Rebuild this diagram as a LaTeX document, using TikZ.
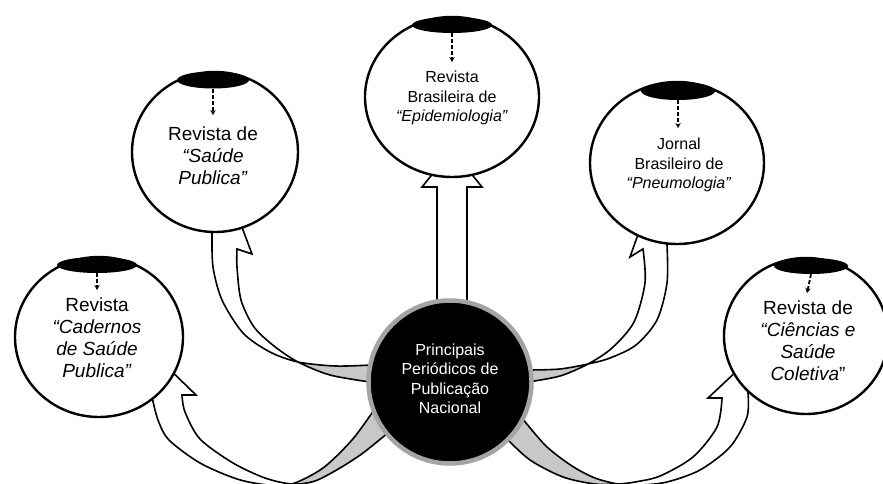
\documentclass[tikz,border=0pt]{standalone}
\usepackage{fontspec}
\setmainfont{Liberation Sans}
\usetikzlibrary{shapes.geometric,arrows.meta}
\definecolor{bandgray}{HTML}{C8C8C8}
\definecolor{ringgray}{HTML}{A4A4A4}
\newcommand\mycurvedarrow[2]{%
  \fill[bandgray] #1;
  \begin{scope}\clip #2; \fill[white] #1;\end{scope}
  \draw[arrowline] #1;
}
\begin{document}
\begin{tikzpicture}[x=1pt,y=-1pt,
  journal/.style={ellipse,draw=black,line width=2.4pt,fill=white,inner sep=0pt},
  capnode/.style={ellipse,fill=black,inner sep=0pt},
  jtext/.style={align=center,inner sep=0pt},
  dasharrow/.style={line width=1.8pt,dash pattern=on 4pt off 2pt,-{Stealth[length=5pt,width=5.5pt]}},
  arrowline/.style={line width=1.6pt,line join=miter},
  bigtext/.style={font=\fontsize{19}{22}\selectfont},
  smalltext/.style={font=\fontsize{16}{19.5}\selectfont},
]
\useasboundingbox (0,0) rectangle (883,484);
\fill[white] (0,0) rectangle (883,484);

% ---------- curved arrows ----------
% top-left
\mycurvedarrow{(212,220) -- plot[smooth] coordinates {(212,235) (213,267) (222,300) (243,333) (270,352) (298,362) (335,366) (372,365)} -- plot[smooth] coordinates {(370,382) (330,375) (298,362) (274,346) (254,327) (241,300) (237,267) (237,249)} -- (252,254) -- (240,222) -- cycle}{(0,0) rectangle (298,484)}
% top-right
\mycurvedarrow{(667,228) -- plot[smooth] coordinates {(667,245) (667,283) (657,320) (636,345) (610,358) (588,364) (560,369) (530,370)} -- plot[smooth] coordinates {(528,382) (560,376) (588,364) (612,348) (634,322) (645,283) (643,249)} -- (630,257) -- (641,226) -- cycle}{(588,0) rectangle (883,484)}
% left
\mycurvedarrow{(145,378) -- plot[smooth] coordinates {(152,397) (158,420) (169,440) (200,463) (237,479) (268,485) (292,484) (323,468) (352,440) (374,410)} -- plot[smooth] coordinates {(389,432) (363,453) (340,468) (315,481) (292,484) (265,478) (233,463) (200,439) (185,412) (182,395)} -- (196,395) -- (163,363) -- cycle}{(0,0) rectangle (292,484)}
% right
\mycurvedarrow{(752,376) -- plot[smooth] coordinates {(748,393) (747,417) (730,447) (700,470) (667,482) (640,485) (618,484) (595,478) (572,466) (546,446) (522,418)} -- plot[smooth] coordinates {(506,438) (530,460) (563,477) (595,484) (618,484) (635,482) (660,476) (693,457) (717,427) (722,398)} -- (708,398) -- (740,368) -- cycle}{(618,0) rectangle (883,484)}
% vertical
\draw[arrowline,fill=white] (437,312) -- (437,187) -- (422,187) -- (452,150) -- (482,187) -- (467,187) -- (467,312) -- cycle;

% ---------- journal circles ----------
\node[journal,minimum width=174pt,minimum height=160pt] (cT) at (452,97) {};
\node[journal,minimum width=174pt,minimum height=162pt] (cTR) at (677,163) {};
\node[journal,minimum width=166pt,minimum height=160pt] (cTL) at (215,152) {};
\node[journal,minimum width=168pt,minimum height=160pt] (cL) at (99,337) {};
\node[journal,minimum width=164pt,minimum height=156pt] (cR) at (806,336) {};

% caps
\node[capnode,minimum width=80pt,minimum height=16pt] (kT) at (452,25) {};
\node[capnode,minimum width=74pt,minimum height=18pt] (kTR) at (678,91) {};
\node[capnode,minimum width=72pt,minimum height=17pt] (kTL) at (213,80) {};
\node[capnode,minimum width=80pt,minimum height=16pt] (kL) at (97,265) {};
\node[capnode,minimum width=74pt,minimum height=16pt] (kR) at (811,266) {};

% dashed arrow ends
\coordinate (eT) at (452,62);
\coordinate (eTR) at (678,128);
\coordinate (eTL) at (213,115);
\coordinate (eL) at (97,290);
\coordinate (eR) at (807,293);
\draw[dasharrow] (kT.south) -- (eT);
\draw[dasharrow] (kTR.south) -- (eTR);
\draw[dasharrow] (kTL.south) -- (eTL);
\draw[dasharrow] (kL.south) -- (eL);
\draw[dasharrow] (kR.south) -- (eR);

% texts
\node[jtext,smalltext] (tT) at (452,98) {Revista\\Brasileira de\\\textit{“Epidemiologia”}};
\node[jtext,smalltext] (tTR) at (679,165) {Jornal\\Brasileiro de\\\textit{“Pneumologia”}};
\node[jtext,bigtext] (tTL) at (213,156) {Revista de\\\textit{“Saúde}\\\textit{Publica”}};
\node[jtext,bigtext] (tL) at (97,338) {Revista\\\textit{“Cadernos}\\\textit{de Saúde}\\\textit{Publica”}};
\node[jtext,bigtext] (tR) at (808,341) {Revista de\\\textit{“Ciências e}\\\textit{Saúde}\\\textit{Coletiva}”};

% central node
\node[circle,draw=ringgray,line width=4.5pt,fill=black,minimum size=163pt,inner sep=0pt] (cC) at (450,382) {};
\node[jtext,smalltext,text=white] (tC) at (450,379) {Principais\\Periódicos de\\Publicação\\Nacional};
\end{tikzpicture}
\end{document}
